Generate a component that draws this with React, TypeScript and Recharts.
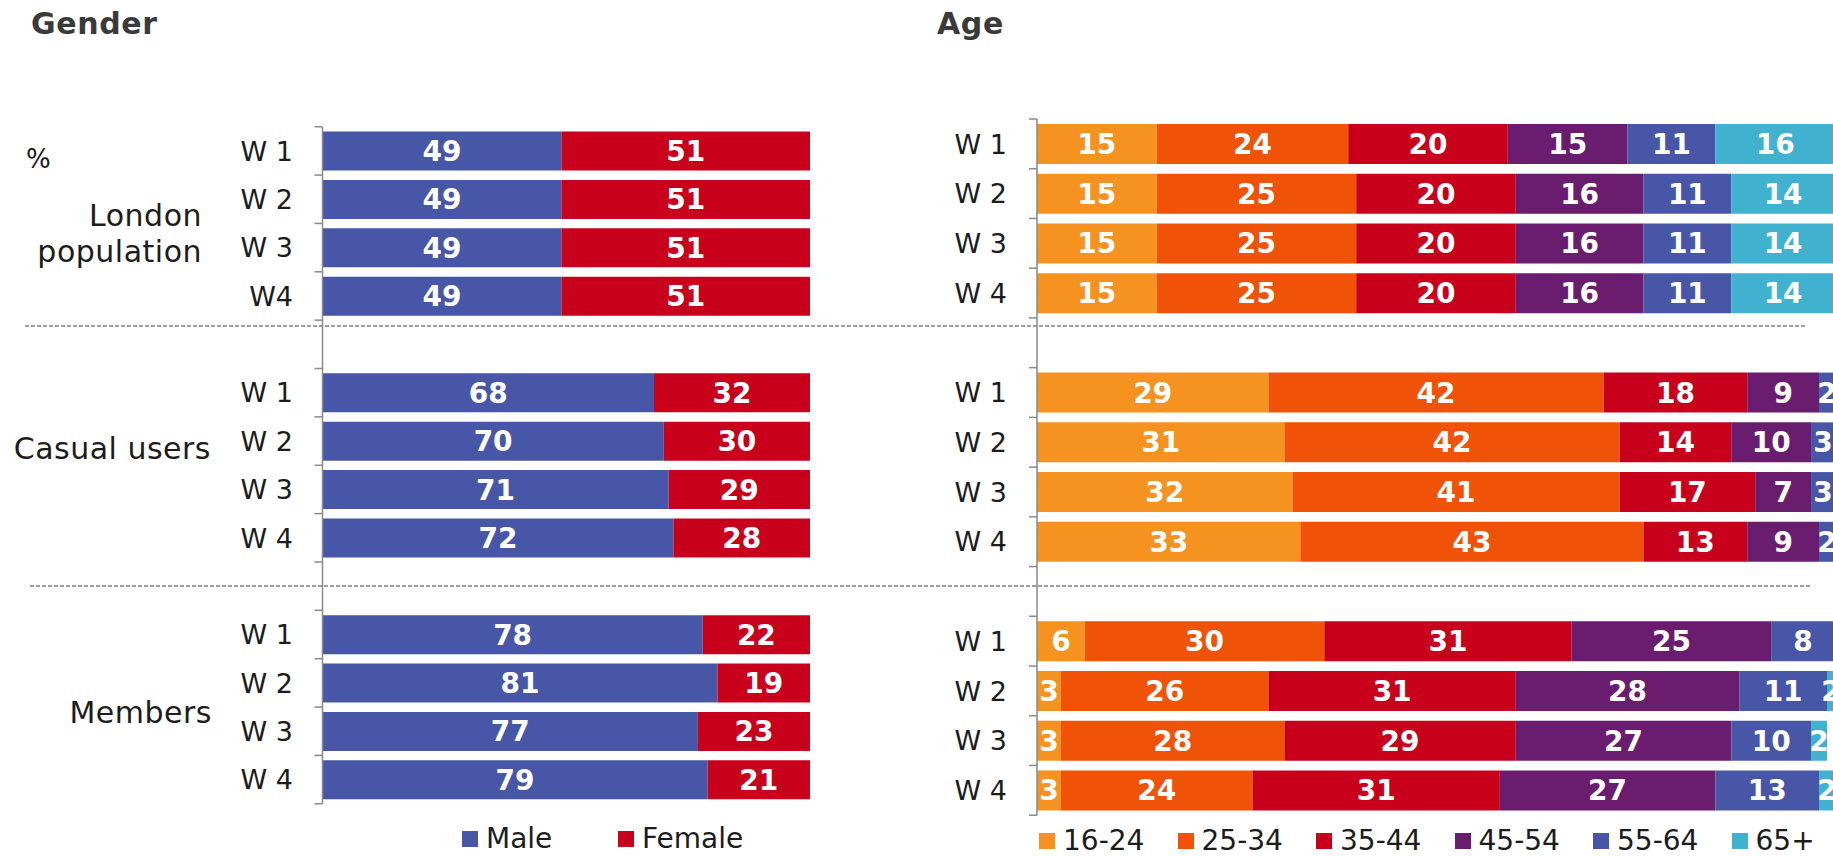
import React from 'react';
import { BarChart, Bar, XAxis, YAxis, LabelList } from 'recharts';

const FONT = '"DejaVu Sans", Verdana, sans-serif';

// ---------- DATA ----------
const genderWaves = ['W 1', 'W 2', 'W 3', 'W4', '', 'W 1', 'W 2', 'W 3', 'W 4', '', 'W 1', 'W 2', 'W 3', 'W 4'];
const ageWaves = ['W 1', 'W 2', 'W 3', 'W 4', '', 'W 1', 'W 2', 'W 3', 'W 4', '', 'W 1', 'W 2', 'W 3', 'W 4'];

const male = [49, 49, 49, 49, null, 68, 70, 71, 72, null, 78, 81, 77, 79];
const female = [51, 51, 51, 51, null, 32, 30, 29, 28, null, 22, 19, 23, 21];

const age1624 = [15, 15, 15, 15, null, 29, 31, 32, 33, null, 6, 3, 3, 3];
const age2534 = [24, 25, 25, 25, null, 42, 42, 41, 43, null, 30, 26, 28, 24];
const age3544 = [20, 20, 20, 20, null, 18, 14, 17, 13, null, 31, 31, 29, 31];
const age4554 = [15, 16, 16, 16, null, 9, 10, 7, 9, null, 25, 28, 27, 27];
const age5564 = [11, 11, 11, 11, null, 2, 3, 3, 2, null, 8, 11, 10, 13];
const age65 = [16, 14, 14, 14, null, 0, 0, 0, 1, null, 1, 2, 2, 2];

const genderSeries = [
  { key: 'male', name: 'Male', color: '#4756A6', values: male },
  { key: 'female', name: 'Female', color: '#C8001B', values: female },
];
const ageSeries = [
  { key: 'a1', name: '16-24', color: '#F6921F', values: age1624 },
  { key: 'a2', name: '25-34', color: '#F05208', values: age2534 },
  { key: 'a3', name: '35-44', color: '#C8001B', values: age3544 },
  { key: 'a4', name: '45-54', color: '#6A1D6E', values: age4554 },
  { key: 'a5', name: '55-64', color: '#4756A6', values: age5564 },
  { key: 'a6', name: '65+', color: '#40B1CF', values: age65 },
];

const genderData = genderWaves.map((w, i) => {
  const row: any = { wave: w };
  genderSeries.forEach((s) => (row[s.key] = s.values[i]));
  return row;
});
const ageData = ageWaves.map((w, i) => {
  const row: any = { wave: w };
  ageSeries.forEach((s) => (row[s.key] = s.values[i]));
  return row;
});

const AXIS_COLOR = '#8a8a8a';
const TEXT_COLOR = '#1c1c1c';

function makeTick(axisX: number, labelRight: number, count: number, fallbackHalf: number) {
  return (props: any) => {
    const { y, payload } = props;
    const half = typeof payload?.offset === 'number' && payload.offset > 0 ? payload.offset : fallbackHalf;
    const idx = typeof payload?.index === 'number' ? payload.index : props.index;
    return (
      <g>
        <line x1={axisX - 8} x2={axisX} y1={y - half} y2={y - half} stroke={AXIS_COLOR} strokeWidth={1.5} />
        {idx === count - 1 && (
          <line x1={axisX - 8} x2={axisX} y1={y + half} y2={y + half} stroke={AXIS_COLOR} strokeWidth={1.5} />
        )}
        <text x={labelRight} y={y} dy="0.36em" textAnchor="end" fontSize={27} fill={TEXT_COLOR} fontFamily={FONT}>
          {payload?.value}
        </text>
      </g>
    );
  };
}

const labelFormatter = (v: any) => (v ? v : '');

function HtmlLegend({ series, left, top, pitch }: { series: any[]; left: number; top: number; pitch: number }) {
  return (
    <div style={{ position: 'absolute', left, top, display: 'flex', fontFamily: FONT }}>
      {series.map((s) => (
        <div key={s.key} style={{ width: pitch, height: 30, display: 'flex', alignItems: 'center' }}>
          <div style={{ width: 16, height: 16, background: s.color, marginRight: 8 }} />
          <span style={{ fontSize: 28, lineHeight: '30px', color: TEXT_COLOR, whiteSpace: 'nowrap' }}>{s.name}</span>
        </div>
      ))}
    </div>
  );
}

export default function App() {
  const gTop = 126.7;
  const gBottom = 803.8;
  const aTop = 119;
  const aBottom = 815.2;
  return (
    <div style={{ position: 'fixed', left: 0, top: 0, width: 1833, height: 856, overflow: 'hidden', background: '#fff' }}>
      {/* Gender chart */}
      <div style={{ position: 'absolute', left: 0, top: 0 }}>
        <BarChart
          width={840}
          height={856}
          data={genderData}
          layout="vertical"
          margin={{ top: gTop, right: 30, bottom: 856 - gBottom, left: 0 }}
          barCategoryGap="10%"
        >
          <XAxis type="number" domain={[0, 100]} hide />
          <YAxis
            type="category"
            dataKey="wave"
            width={322.5}
            interval={0}
            axisLine={{ stroke: AXIS_COLOR, strokeWidth: 1.5 }}
            tickLine={false}
            tick={makeTick(322.5, 293, genderWaves.length, (gBottom - gTop) / genderWaves.length / 2)}
          />
          {genderSeries.map((s) => (
            <Bar key={s.key} dataKey={s.key} name={s.name} stackId="g" fill={s.color} isAnimationActive={false}>
              <LabelList
                dataKey={s.key}
                position="center"
                formatter={labelFormatter}
                fill="#ffffff"
                fontSize={28}
                fontWeight="bold"
                fontFamily={FONT}
              />
            </Bar>
          ))}
        </BarChart>
      </div>

      {/* Age chart */}
      <div style={{ position: 'absolute', left: 840, top: 0 }}>
        <BarChart
          width={995}
          height={856}
          data={ageData}
          layout="vertical"
          margin={{ top: aTop, right: 0, bottom: 856 - aBottom, left: 0 }}
          barCategoryGap="10%"
        >
          <XAxis type="number" domain={[0, 100]} allowDataOverflow hide />
          <YAxis
            type="category"
            dataKey="wave"
            width={197}
            interval={0}
            axisLine={{ stroke: AXIS_COLOR, strokeWidth: 1.5 }}
            tickLine={false}
            tick={makeTick(197, 167, ageWaves.length, (aBottom - aTop) / ageWaves.length / 2)}
          />
          {ageSeries.map((s) => (
            <Bar key={s.key} dataKey={s.key} name={s.name} stackId="a" fill={s.color} isAnimationActive={false}>
              <LabelList
                dataKey={s.key}
                position="center"
                formatter={labelFormatter}
                fill="#ffffff"
                fontSize={28}
                fontWeight="bold"
                fontFamily={FONT}
              />
            </Bar>
          ))}
        </BarChart>
      </div>

      {/* Legends */}
      <HtmlLegend series={genderSeries} left={462} top={824} pitch={156} />
      <HtmlLegend series={ageSeries} left={1039} top={826} pitch={138.5} />

      {/* Titles, group labels, separators */}
      <svg
        width={1833}
        height={856}
        style={{ position: 'absolute', left: 0, top: 0, pointerEvents: 'none' }}
        fontFamily={FONT}
      >
        <text x={31} y={34} fontSize={30} fontWeight="bold" fill="#3a3a3a" letterSpacing={0.6}>Gender</text>
        <text x={937} y={34} fontSize={30} fontWeight="bold" fill="#3a3a3a" letterSpacing={0.6}>Age</text>
        <text x={26} y={168} fontSize={26} fill={TEXT_COLOR}>%</text>
        <text x={202} y={226} fontSize={30} fill={TEXT_COLOR} textAnchor="end" letterSpacing={0.5}>London</text>
        <text x={202} y={262} fontSize={30} fill={TEXT_COLOR} textAnchor="end" letterSpacing={0.5}>population</text>
        <text x={211} y={459} fontSize={30} fill={TEXT_COLOR} textAnchor="end" letterSpacing={0.5}>Casual users</text>
        <text x={212} y={723} fontSize={30} fill={TEXT_COLOR} textAnchor="end" letterSpacing={0.5}>Members</text>
        <line x1={25} x2={1806} y1={326} y2={326} stroke="#808080" strokeWidth={1.5} strokeDasharray="4 2" />
        <line x1={30} x2={1811} y1={586} y2={586} stroke="#808080" strokeWidth={1.5} strokeDasharray="4 2" />
      </svg>
    </div>
  );
}
